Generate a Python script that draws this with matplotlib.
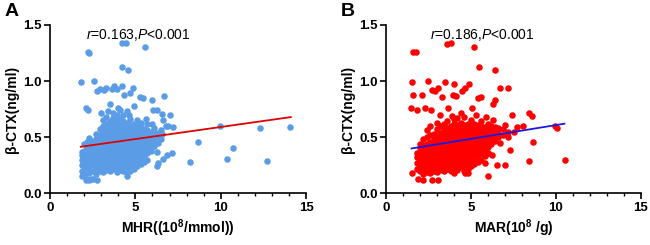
import matplotlib.pyplot as plt

plt.rcParams['font.family'] = ['Liberation Sans', 'DejaVu Sans']
plt.rcParams['mathtext.fontset'] = 'custom'
plt.rcParams['mathtext.rm'] = 'Liberation Sans'
plt.rcParams['mathtext.it'] = 'Liberation Sans:italic'
plt.rcParams['mathtext.bf'] = 'Liberation Sans:bold'

BLUE = "#5a9de6"
RED = "#ff0000"

# ---- panel A: MHR vs beta-CTX ----
# dense blob, read column by column
a_col_x = [1.9, 2.0, 2.15, 2.3, 2.5, 2.7, 2.9, 3.1, 3.3, 3.5, 3.7, 3.9, 4.1,
           4.3, 4.5, 4.7, 4.9, 5.1, 5.3, 5.5, 5.7, 5.9, 6.1, 6.3, 6.5]
a_col_y = [
    [0.20, 0.25, 0.30, 0.34, 0.37],
    [0.16, 0.22, 0.28, 0.33, 0.38, 0.44],
    [0.13, 0.19, 0.24, 0.29, 0.35, 0.40, 0.46],
    [0.12, 0.18, 0.23, 0.27, 0.31, 0.36, 0.41, 0.45, 0.49],
    [0.13, 0.20, 0.25, 0.30, 0.34, 0.38, 0.42, 0.47],
    [0.17, 0.22, 0.27, 0.31, 0.35, 0.39, 0.43, 0.48, 0.53],
    [0.20, 0.24, 0.28, 0.32, 0.36, 0.40, 0.44, 0.48, 0.52, 0.57],
    [0.19, 0.23, 0.27, 0.31, 0.35, 0.39, 0.43, 0.47, 0.51, 0.55, 0.60, 0.65],
    [0.21, 0.25, 0.29, 0.33, 0.37, 0.41, 0.45, 0.49, 0.53, 0.57, 0.62, 0.68],
    [0.20, 0.24, 0.28, 0.32, 0.36, 0.40, 0.44, 0.48, 0.52, 0.56, 0.60, 0.64],
    [0.22, 0.26, 0.30, 0.34, 0.38, 0.42, 0.46, 0.50, 0.54, 0.58, 0.62, 0.67, 0.72],
    [0.19, 0.24, 0.28, 0.32, 0.36, 0.40, 0.44, 0.48, 0.52, 0.56, 0.60, 0.65, 0.70],
    [0.21, 0.25, 0.29, 0.33, 0.37, 0.41, 0.45, 0.49, 0.53, 0.57, 0.61, 0.66, 0.74],
    [0.20, 0.24, 0.28, 0.32, 0.36, 0.40, 0.44, 0.48, 0.52, 0.56, 0.60, 0.64, 0.70],
    [0.18, 0.23, 0.27, 0.31, 0.35, 0.39, 0.43, 0.47, 0.51, 0.55, 0.59, 0.63, 0.73],
    [0.20, 0.25, 0.29, 0.33, 0.37, 0.41, 0.45, 0.49, 0.53, 0.57, 0.61, 0.66],
    [0.22, 0.26, 0.30, 0.34, 0.38, 0.42, 0.46, 0.50, 0.54, 0.58, 0.62],
    [0.24, 0.28, 0.32, 0.36, 0.40, 0.44, 0.48, 0.52, 0.56, 0.60, 0.65],
    [0.26, 0.30, 0.34, 0.38, 0.42, 0.46, 0.50, 0.54, 0.58, 0.63],
    [0.28, 0.33, 0.37, 0.41, 0.45, 0.49, 0.53, 0.57],
    [0.36, 0.40, 0.44, 0.48, 0.52, 0.56, 0.62],
    [0.38, 0.43, 0.47, 0.51, 0.55],
    [0.42, 0.46, 0.50, 0.54, 0.58],
    [0.45, 0.50, 0.54],
    [0.48, 0.52, 0.56],
]
# scattered points outside the blob
a_out_x = [2.25, 2.3, 4.24, 4.45, 5.57, 4.2, 4.59, 1.82, 2.6, 2.75, 2.95, 3.15,
           3.3, 3.6, 3.75, 3.9, 4.2, 4.88, 4.34, 4.7, 5.27, 5.47, 5.96, 6.7,
           2.1, 2.25, 6.54, 7.03, 6.05, 7.2, 6.93, 9.96, 12.3, 14.06, 8.69,
           10.74, 10.35, 8.2, 12.7, 7.13, 6.84, 6.64, 6.35, 6.25, 5.66, 5.27,
           5.08, 1.85, 2.1, 2.4, 2.73, 4.5, 6.05, 6.25, 5.47, 6.54, 6.64, 6.25,
           5.27, 5.96, 3.0, 3.5, 4.9, 3.4, 4.0, 4.6, 5.6, 6.8]
a_out_y = [1.26, 1.25, 1.34, 1.34, 1.30, 1.13, 1.10, 0.99, 1.00, 0.91, 0.93, 0.92,
           0.94, 0.93, 0.96, 0.93, 0.96, 0.94, 0.88, 0.89, 0.86, 0.85, 0.83, 0.87,
           0.76, 0.74, 0.71, 0.70, 0.74, 0.59, 0.60, 0.60, 0.585, 0.594, 0.46,
           0.40, 0.31, 0.28, 0.29, 0.36, 0.34, 0.31, 0.27, 0.24, 0.30, 0.27,
           0.33, 0.15, 0.12, 0.13, 0.12, 0.15, 0.42, 0.37, 0.34, 0.53, 0.65, 0.74,
           0.55, 0.62, 0.72, 0.80, 0.78, 0.73, 0.76, 0.70, 0.66, 0.60]
a_fit = (0.376, 0.0215, 1.8, 14.1)   # intercept, slope, x start, x end

# ---- panel B: MAR vs beta-CTX ----
b_col_x = [1.8, 2.0, 2.2, 2.4, 2.6, 2.8, 3.0, 3.2, 3.4, 3.6, 3.8, 4.0, 4.2,
           4.4, 4.6, 4.8, 5.0, 5.2, 5.4, 5.6, 5.8, 6.0, 6.2, 6.4, 6.6, 6.9, 7.2]
b_col_y = [
    [0.22, 0.27, 0.32, 0.36],
    [0.20, 0.25, 0.30, 0.35, 0.40, 0.44],
    [0.17, 0.22, 0.27, 0.31, 0.35, 0.39, 0.43, 0.48],
    [0.19, 0.24, 0.28, 0.32, 0.36, 0.40, 0.44, 0.50, 0.56],
    [0.18, 0.22, 0.26, 0.30, 0.34, 0.38, 0.42, 0.46, 0.52, 0.60],
    [0.20, 0.24, 0.28, 0.32, 0.36, 0.40, 0.44, 0.48, 0.53],
    [0.19, 0.23, 0.27, 0.31, 0.35, 0.39, 0.43, 0.47, 0.51, 0.57, 0.63],
    [0.21, 0.25, 0.29, 0.33, 0.37, 0.41, 0.45, 0.49, 0.54, 0.60],
    [0.20, 0.24, 0.28, 0.32, 0.36, 0.40, 0.44, 0.48, 0.52, 0.56, 0.62],
    [0.22, 0.26, 0.30, 0.34, 0.38, 0.42, 0.46, 0.50, 0.54, 0.58, 0.64],
    [0.20, 0.24, 0.28, 0.32, 0.36, 0.40, 0.44, 0.48, 0.52, 0.56, 0.60],
    [0.22, 0.26, 0.30, 0.34, 0.38, 0.42, 0.46, 0.50, 0.54, 0.58, 0.62, 0.66],
    [0.21, 0.25, 0.29, 0.33, 0.37, 0.41, 0.45, 0.49, 0.53, 0.57, 0.61, 0.67],
    [0.23, 0.27, 0.31, 0.35, 0.39, 0.43, 0.47, 0.51, 0.55, 0.59, 0.63],
    [0.20, 0.25, 0.29, 0.33, 0.37, 0.41, 0.45, 0.49, 0.53, 0.57, 0.61, 0.68],
    [0.22, 0.26, 0.30, 0.34, 0.38, 0.42, 0.46, 0.50, 0.54, 0.58, 0.62],
    [0.24, 0.28, 0.32, 0.36, 0.40, 0.44, 0.48, 0.52, 0.56, 0.60, 0.65],
    [0.26, 0.30, 0.34, 0.38, 0.42, 0.46, 0.50, 0.54, 0.58, 0.62],
    [0.28, 0.33, 0.37, 0.41, 0.45, 0.49, 0.53, 0.57, 0.61],
    [0.30, 0.35, 0.40, 0.44, 0.48, 0.52, 0.56, 0.60, 0.64],
    [0.27, 0.33, 0.38, 0.43, 0.47, 0.51, 0.55, 0.59],
    [0.36, 0.41, 0.46, 0.50, 0.54, 0.58, 0.62],
    [0.44, 0.48, 0.52, 0.56, 0.60],
    [0.47, 0.51, 0.55, 0.59],
    [0.50, 0.54, 0.58],
    [0.52, 0.57],
    [0.50, 0.55],
]
b_out_x = [1.61, 1.76, 3.57, 3.82, 5.18, 5.47, 6.41, 1.51, 2.49, 3.47, 4.02,
           4.88, 4.65, 4.45, 1.6, 2.1, 2.69, 3.08, 2.88, 3.27, 3.92, 4.12, 5.43,
           5.59, 6.41, 6.31, 6.7, 7.16, 1.47, 1.8, 2.29, 2.65, 3.67, 3.18, 5.04,
           8.41, 8.57, 7.39, 7.0, 7.69, 8.08, 9.94, 10.04, 8.67, 10.53, 8.41,
           7.29, 7.0, 6.51, 6.02, 6.22, 6.02, 1.55, 1.9, 2.2, 2.69, 3.08, 4.84,
           4.65, 4.02, 7.5, 6.7, 5.9, 6.3, 5.3, 4.4, 3.9]
b_out_y = [1.26, 1.26, 1.33, 1.34, 1.30, 1.13, 1.10, 0.99, 1.00, 0.99, 0.97,
           0.97, 0.94, 0.91, 0.88, 0.88, 0.92, 0.94, 0.91, 0.86, 0.88, 0.87, 0.85,
           0.86, 0.83, 0.80, 0.94, 0.94, 0.76, 0.74, 0.76, 0.74, 0.76, 0.70, 0.76,
           0.72, 0.69, 0.70, 0.61, 0.59, 0.60, 0.60, 0.58, 0.46, 0.30, 0.29,
           0.39, 0.25, 0.25, 0.36, 0.34, 0.15, 0.18, 0.13, 0.12, 0.12, 0.12, 0.18,
           0.18, 0.18, 0.55, 0.45, 0.68, 0.65, 0.70, 0.72, 0.69]
b_fit = (0.363, 0.0245, 1.5, 10.5)


def flatten(col_x, col_y, out_x, out_y):
    xs, ys = [], []
    for x, col in zip(col_x, col_y):
        xs += [x] * len(col)
        ys += col
    return xs + out_x, ys + out_y


fig = plt.figure(figsize=(6.5, 2.45), dpi=100)
panels = [
    ("A", [0.077, 0.211, 0.394, 0.687], a_col_x, a_col_y, a_out_x, a_out_y,
     a_fit, BLUE, "#e00000", r"MHR((10$^{\mathbf{8}}$/mmol))",
     r"$\mathit{r}$=0.163,$\mathit{P}$<0.001", 2.1),
    ("B", [0.594, 0.211, 0.392, 0.687], b_col_x, b_col_y, b_out_x, b_out_y,
     b_fit, RED, "#1a1ae0", r"MAR(10$^{\mathbf{8}}$ /g)",
     r"$\mathit{r}$=0.186,$\mathit{P}$<0.001", 2.6),
]

for letter, rect, cx, cy, ox, oy, fit, col, lcol, xlab, note, nx in panels:
    ax = fig.add_axes(rect)
    xs, ys = flatten(cx, cy, ox, oy)
    ax.scatter(xs, ys, s=22, color=col, linewidths=0, zorder=2)
    b0, b1, x0, x1 = fit
    ax.plot([x0, x1], [b0 + b1 * x0, b0 + b1 * x1], color=lcol, lw=1.3, zorder=3)

    ax.set_xlim(0, 15)
    ax.set_ylim(0, 1.5)
    ax.set_xticks([0, 5, 10, 15])
    ax.set_xticks(range(16), minor=True)
    ax.set_yticks([0, 0.5, 1.0, 1.5])
    ax.set_yticklabels(["0.0", "0.5", "1.0", "1.5"])
    for s in ["top", "right"]:
        ax.spines[s].set_visible(False)
    for s in ["left", "bottom"]:
        ax.spines[s].set_linewidth(1.2)
    ax.tick_params(which="major", length=4, width=1.2, labelsize=9.5, pad=2)
    ax.tick_params(which="minor", length=2.5, width=1.0)
    for t in ax.get_xticklabels() + ax.get_yticklabels():
        t.set_fontweight("bold")
    ax.set_xlabel(xlab, fontsize=10, fontweight="bold", labelpad=3)
    ax.set_ylabel("β-CTX(ng/ml)", fontsize=10, fontweight="bold", labelpad=3)
    ax.text(nx, 1.41, note, fontsize=10, va="center", ha="left")
    fig.text(rect[0] - 0.07, 0.955, letter, fontsize=14, fontweight="bold",
             va="center", ha="left")

fig.savefig("out.png", dpi=100)
